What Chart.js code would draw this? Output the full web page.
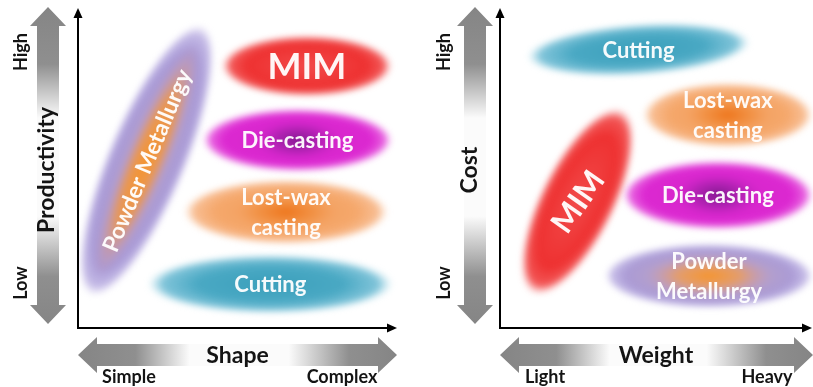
<!DOCTYPE html>
<html>
<head>
<meta charset="utf-8">
<script src="https://cdn.jsdelivr.net/npm/chart.js@4"></script>
<style>
  html, body { margin: 0; padding: 0; background: #fff; }
  #wrap { position: relative; width: 813px; height: 387px; overflow: hidden; }
  .pane { position: absolute; top: 0; height: 387px; }
</style>
</head>
<body>
<div id="wrap">
  <div class="pane" style="left:0;width:406px"><canvas id="shapeChart" width="406" height="387"></canvas></div>
  <div class="pane" style="left:406px;width:407px"><canvas id="weightChart" width="407" height="387"></canvas></div>
</div>
<script>
// ---- Shape vs. productivity (0 = simple / low, 10 = complex / high) ----
const shapeProcesses   = ['Powder Metallurgy', 'MIM', 'Die-casting', 'Lost-wax casting', 'Cutting'];
const shapeFrom        = [0.38, 4.51, 3.92, 3.32, 2.19];
const shapeTo          = [3.92, 9.84, 9.84, 9.72, 9.87];
const productivityFrom = [1.04, 8.24, 5.91, 3.65, 1.38];
const productivityTo   = [9.50, 8.24, 5.91, 3.65, 1.38];
const shapeTicks        = ['Simple', 'Complex'];
const productivityTicks = ['Low', 'High'];

// ---- Weight vs. cost (0 = light / low, 10 = heavy / high) ----
const weightProcesses = ['Cutting', 'Lost-wax casting', 'MIM', 'Die-casting', 'Powder Metallurgy'];
const weightFrom      = [0.87, 4.58, 1.03, 3.94, 3.37];
const weightTo        = [8.01, 10.03, 3.94, 10.03, 10.03];
const costFrom        = [8.52, 6.70, 1.10, 4.18, 1.64];
const costTo          = [8.99, 6.70, 6.86, 4.18, 1.64];
const weightTicks = ['Light', 'Heavy'];
const costTicks   = ['Low', 'High'];

const FONT = 'Lato, "Open Sans", "DejaVu Sans", sans-serif';

// Blob looks per process (thickness in px, gradient layers)
const blobStyles = {
  'Powder Metallurgy': {
    minor: 39,
    layers: [
      { ka: 1, kb: 1, stops: [[0, '#bba3c8'], [0.8, '#a99ad6'], [0.93, 'rgba(172,158,220,0.7)'], [1, 'rgba(185,172,228,0)']] },
      { ka: 0.86, kb: 0.55, stops: [[0, 'rgba(246,148,42,1)'], [0.55, 'rgba(240,150,68,0.85)'], [1, 'rgba(205,150,175,0)']] }
    ]
  },
  'Powder Metallurgy wide': {
    minor: 32,
    layers: [
      { ka: 1, kb: 1, stops: [[0, '#c6a8ba'], [0.8, '#ab9bd5'], [0.93, 'rgba(172,158,220,0.7)'], [1, 'rgba(185,172,228,0)']] },
      { ka: 0.62, kb: 0.65, stops: [[0, 'rgba(246,148,42,1)'], [0.5, 'rgba(240,155,80,0.75)'], [1, 'rgba(205,150,175,0)']] }
    ]
  },
  'MIM': {
    minor: 30,
    layers: [
      { ka: 1, kb: 1, stops: [[0, '#f24a4a'], [0.7, '#ee3131'], [0.9, 'rgba(240,58,58,0.85)'], [1, 'rgba(245,110,110,0)']] }
    ]
  },
  'Die-casting': {
    minor: 31,
    layers: [
      { ka: 1, kb: 1, stops: [[0, '#d426c8'], [0.78, '#dc28d1'], [0.92, 'rgba(225,55,215,0.8)'], [1, 'rgba(230,100,225,0)']] },
      { ka: 0.5, kb: 0.7, stops: [[0, 'rgba(125,25,140,0.95)'], [0.5, 'rgba(155,30,165,0.6)'], [1, 'rgba(215,35,205,0)']] }
    ]
  },
  'Lost-wax casting': {
    minor: 32,
    layers: [
      { ka: 1, kb: 1, stops: [[0, '#f29a55'], [0.7, '#f5a86c'], [0.9, 'rgba(246,172,118,0.8)'], [1, 'rgba(248,190,150,0)']] },
      { ka: 0.5, kb: 0.6, stops: [[0, 'rgba(238,115,25,1)'], [0.6, 'rgba(240,135,50,0.5)'], [1, 'rgba(242,150,80,0)']] }
    ]
  },
  'Cutting': {
    minor: 29,
    layers: [
      { ka: 1, kb: 1, stops: [[0, '#3b9fbb'], [0.6, '#4aa9c4'], [0.88, 'rgba(105,185,210,0.85)'], [1, 'rgba(150,210,228,0)']] }
    ]
  }
};

// Per-chart decoration layout
const shapeLayout = {
  canvas: 'shapeChart',
  processes: shapeProcesses, xFrom: shapeFrom, xTo: shapeTo, yFrom: productivityFrom, yTo: productivityTo,
  xTitle: 'Shape', yTitle: 'Productivity', xTicks: shapeTicks, yTicks: productivityTicks,
  padding: { left: 78, right: 9, top: 10, bottom: 59 },
  vArrowDx: -30, yTitleDx: -31, yTickDx: -57, xTickInset: [51, 55], hArrowRightExt: 0,
  labels: {
    'Powder Metallurgy': { lines: ['Powder Metallurgy'], size: 23, rotate: true },
    'MIM': { lines: ['MIM'], size: 36 },
    'Die-casting': { lines: ['Die-casting'], size: 22 },
    'Lost-wax casting': { lines: ['Lost-wax', 'casting'], size: 22 },
    'Cutting': { lines: ['Cutting'], size: 22 }
  }
};
const weightLayout = {
  canvas: 'weightChart',
  processes: weightProcesses, xFrom: weightFrom, xTo: weightTo, yFrom: costFrom, yTo: costTo,
  xTitle: 'Weight', yTitle: 'Cost', xTicks: weightTicks, yTicks: costTicks,
  padding: { left: 94, right: 1, top: 10, bottom: 59 },
  vArrowDx: -25, yTitleDx: -30, yTickDx: -56, xTickInset: [45, 45], hArrowRightExt: 1,
  labels: {
    'Cutting': { lines: ['Cutting'], size: 22, minor: 25 },
    'Lost-wax casting': { lines: ['Lost-wax', 'casting'], size: 22 },
    'MIM': { lines: ['MIM'], size: 31, angle: -55, minor: 37 },
    'Die-casting': { lines: ['Die-casting'], size: 22, minor: 34 },
    'Powder Metallurgy': { lines: ['Powder', 'Metallurgy'], size: 22, style: 'Powder Metallurgy wide' }
  }
};

const ARROW_STOPS = [[0, '#858585'], [0.18, '#8f8f8f'], [0.35, '#fbfbfb'], [0.66, '#fbfbfb'], [0.85, '#8f8f8f'], [1, '#858585']];

// Double-headed grey arrow between two points
function greyArrow(ctx, x1, y1, x2, y2) {
  const len = Math.hypot(x2 - x1, y2 - y1), ang = Math.atan2(y2 - y1, x2 - x1);
  const sh = 11, hh = 18, hl = 19;
  ctx.save();
  ctx.translate(x1, y1); ctx.rotate(ang);
  const g = ctx.createLinearGradient(0, 0, len, 0);
  ARROW_STOPS.forEach(([o, c]) => g.addColorStop(o, c));
  ctx.fillStyle = g;
  ctx.beginPath();
  ctx.moveTo(0, 0);
  ctx.lineTo(hl, -hh); ctx.lineTo(hl, -sh);
  ctx.lineTo(len - hl, -sh); ctx.lineTo(len - hl, -hh);
  ctx.lineTo(len, 0);
  ctx.lineTo(len - hl, hh); ctx.lineTo(len - hl, sh);
  ctx.lineTo(hl, sh); ctx.lineTo(hl, hh);
  ctx.closePath(); ctx.fill();
  ctx.restore();
}

// Black axis line with an arrowhead at its end
function axisLine(ctx, x1, y1, x2, y2) {
  const ang = Math.atan2(y2 - y1, x2 - x1);
  ctx.save();
  ctx.strokeStyle = '#000'; ctx.fillStyle = '#000'; ctx.lineWidth = 2;
  ctx.beginPath(); ctx.moveTo(x1, y1);
  ctx.lineTo(x2 - 8 * Math.cos(ang), y2 - 8 * Math.sin(ang)); ctx.stroke();
  ctx.translate(x2, y2); ctx.rotate(ang);
  ctx.beginPath(); ctx.moveTo(0, 0); ctx.lineTo(-10, -4.5); ctx.lineTo(-10, 4.5); ctx.closePath(); ctx.fill();
  ctx.restore();
}

// Soft-edged gradient ellipse whose long axis runs from p1 to p2
function softBlob(ctx, w, h, p1, p2, minor, style) {
  const off = document.createElement('canvas');
  off.width = w; off.height = h;
  const o = off.getContext('2d');
  const cx = (p1.x + p2.x) / 2, cy = (p1.y + p2.y) / 2;
  const a = Math.hypot(p2.x - p1.x, p2.y - p1.y) / 2;
  const rot = Math.atan2(p2.y - p1.y, p2.x - p1.x);
  o.translate(cx, cy); o.rotate(rot);
  style.layers.forEach(L => {
    o.save();
    o.scale(a * L.ka, minor * L.kb);
    const g = o.createRadialGradient(0, 0, 0, 0, 0, 1);
    L.stops.forEach(([s, c]) => g.addColorStop(s, c));
    o.fillStyle = g;
    o.beginPath(); o.arc(0, 0, 1, 0, Math.PI * 2); o.fill();
    o.restore();
  });
  ctx.save();
  ctx.setTransform(1, 0, 0, 1, 0, 0);
  ctx.filter = 'blur(3px)';
  ctx.drawImage(off, 0, 0);
  ctx.restore();
  return { cx, cy, rot };
}

function diagramPlugin(L) {
  return {
    id: 'processMap',
    afterDatasetsDraw(chart) {
      const ctx = chart.ctx, ca = chart.chartArea, xs = chart.scales.x, ys = chart.scales.y;
      const midY = (ca.top + ca.bottom) / 2, midX = (ca.left + ca.right) / 2;

      // grey direction arrows
      const vx = ca.left + L.vArrowDx;
      greyArrow(ctx, vx, ca.top - 3, vx, ca.bottom - 4);
      const hy = ca.bottom + 27;
      greyArrow(ctx, ca.left, hy, ca.right + L.hArrowRightExt, hy);

      // axis titles and end labels
      ctx.save();
      ctx.fillStyle = '#141414'; ctx.textAlign = 'center'; ctx.textBaseline = 'middle';
      ctx.font = `bold 23px ${FONT}`;
      ctx.fillText(L.xTitle, midX, ca.bottom + 28);
      ctx.font = `bold 18px ${FONT}`;
      ctx.fillText(L.xTicks[0], ca.left + L.xTickInset[0], ca.bottom + 49);
      ctx.fillText(L.xTicks[1], ca.right - L.xTickInset[1], ca.bottom + 49);
      ctx.save();
      ctx.translate(ca.left + L.yTitleDx, midY + 1); ctx.rotate(-Math.PI / 2);
      ctx.font = `bold 23px ${FONT}`; ctx.fillText(L.yTitle, 0, 0);
      ctx.restore();
      [[L.yTicks[1], ca.top + 42], [L.yTicks[0], ca.bottom - 45]].forEach(([t, y]) => {
        ctx.save();
        ctx.translate(ca.left + L.yTickDx, y); ctx.rotate(-Math.PI / 2);
        ctx.font = `bold 18px ${FONT}`; ctx.fillText(t, 0, 0);
        ctx.restore();
      });
      ctx.restore();

      // process blobs and their labels
      L.processes.forEach((name, i) => {
        const lab = L.labels[name];
        const style = blobStyles[lab.style || name];
        const minor = lab.minor || style.minor;
        const p1 = { x: xs.getPixelForValue(L.xFrom[i]), y: ys.getPixelForValue(L.yFrom[i]) };
        const p2 = { x: xs.getPixelForValue(L.xTo[i]), y: ys.getPixelForValue(L.yTo[i]) };
        const b = softBlob(ctx, chart.width, chart.height, p1, p2, minor, style);
        ctx.save();
        ctx.translate(b.cx, b.cy);
        if (lab.rotate) ctx.rotate(b.rot);
        if (lab.angle) ctx.rotate(lab.angle * Math.PI / 180);
        ctx.fillStyle = 'rgba(255,255,255,0.95)';
        ctx.textAlign = 'center'; ctx.textBaseline = 'middle';
        ctx.font = `bold ${lab.size}px ${FONT}`;
        const lh = 30, n = lab.lines.length;
        lab.lines.forEach((t, k) => ctx.fillText(t, 0, (k - (n - 1) / 2) * lh + 1));
        ctx.restore();
      });

      // axes
      axisLine(ctx, ca.left, ca.bottom + 1, ca.left, ca.top - 2);
      axisLine(ctx, ca.left - 1, ca.bottom, ca.right, ca.bottom);
    }
  };
}

function buildChart(L) {
  const points = L.processes.map((p, i) => ({ x: (L.xFrom[i] + L.xTo[i]) / 2, y: (L.yFrom[i] + L.yTo[i]) / 2 }));
  return new Chart(document.getElementById(L.canvas), {
    type: 'scatter',
    data: { labels: L.processes, datasets: [{ data: points, pointRadius: 0, pointHoverRadius: 0 }] },
    options: {
      responsive: false, animation: false, devicePixelRatio: 1, events: [],
      layout: { padding: L.padding },
      plugins: { legend: { display: false }, tooltip: { enabled: false } },
      scales: {
        x: { display: false, min: 0, max: 10 },
        y: { display: false, min: 0, max: 10 }
      }
    },
    plugins: [diagramPlugin(L)]
  });
}

buildChart(shapeLayout);
buildChart(weightLayout);
</script>
</body>
</html>
